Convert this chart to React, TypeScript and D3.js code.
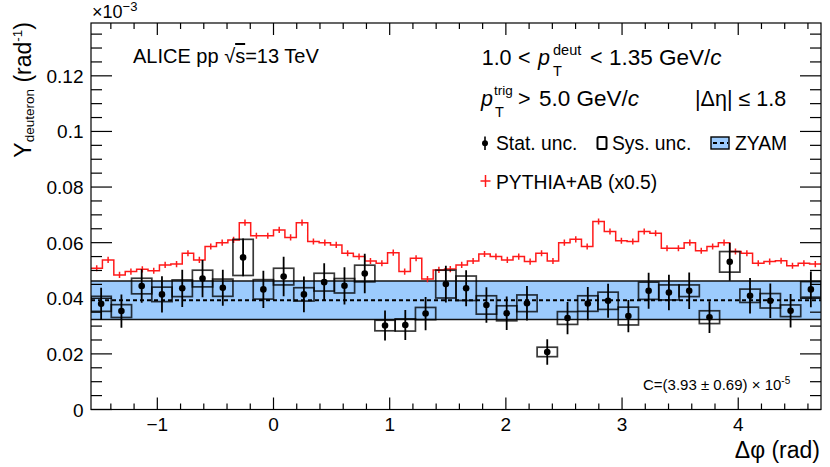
import { useEffect, useRef } from 'react';
import * as d3 from 'd3';

// deuteron yield per Δφ bin, 36 bins over [-π/2, 3π/2]
const yieldValues = [
  0.0380, 0.0354, 0.0444, 0.0414, 0.0436, 0.0471, 0.0438, 0.0547, 0.0432,
  0.0478, 0.0414, 0.0458, 0.0445, 0.0489, 0.0302, 0.0304, 0.0345, 0.0451,
  0.0436, 0.0376, 0.0346, 0.0382, 0.0207, 0.0329, 0.0381, 0.0391, 0.0336,
  0.0427, 0.0421, 0.0427, 0.0332, 0.0531, 0.0409, 0.0391, 0.0355, 0.0432,
];
const statErrors = [
  0.0058, 0.0060, 0.0060, 0.0065, 0.0067, 0.0067, 0.0065, 0.0068, 0.0067,
  0.0071, 0.0064, 0.0068, 0.0067, 0.0071, 0.0054, 0.0054, 0.0060, 0.0066,
  0.0065, 0.0064, 0.0060, 0.0062, 0.0046, 0.0058, 0.0060, 0.0061, 0.0058,
  0.0065, 0.0064, 0.0066, 0.0057, 0.0068, 0.0064, 0.0062, 0.0060, 0.0064,
];
const sysErrors = [
  0.0027, 0.0023, 0.0028, 0.0026, 0.0030, 0.0030, 0.0031, 0.0065, 0.0035,
  0.0030, 0.0024, 0.0032, 0.0026, 0.0030, 0.0019, 0.0022, 0.0022, 0.0050,
  0.0044, 0.0033, 0.0027, 0.0030, 0.0017, 0.0023, 0.0028, 0.0031, 0.0032,
  0.0031, 0.0027, 0.0021, 0.0023, 0.0037, 0.0024, 0.0026, 0.0021, 0.0028,
];

// PYTHIA+AB (x0.5), 64 bins over the same range
const pythiaValues = [
  0.0508, 0.0538, 0.0484, 0.0496, 0.0504, 0.0499, 0.0520, 0.0523,
  0.0562, 0.0538, 0.0586, 0.0600, 0.0610, 0.0672, 0.0625, 0.0625,
  0.0646, 0.0619, 0.0672, 0.0604, 0.0600, 0.0592, 0.0562, 0.0550,
  0.0534, 0.0526, 0.0564, 0.0496, 0.0544, 0.0469, 0.0502, 0.0505,
  0.0520, 0.0534, 0.0559, 0.0550, 0.0538, 0.0550, 0.0532, 0.0562,
  0.0534, 0.0600, 0.0612, 0.0586, 0.0676, 0.0640, 0.0607, 0.0604,
  0.0640, 0.0634, 0.0580, 0.0580, 0.0600, 0.0571, 0.0586, 0.0600,
  0.0568, 0.0562, 0.0526, 0.0532, 0.0535, 0.0517, 0.0526, 0.0523,
];
const pythiaError = 0.0011;

// ZYAM baseline C and its uncertainty
const zyamC = 0.0393;
const zyamErr = 0.0069;

const xTicks = [-1, 0, 1, 2, 3, 4];
const xTickLabels = ['\u22121', '0', '1', '2', '3', '4'];
const yTicks = [0, 0.02, 0.04, 0.06, 0.08, 0.1, 0.12];
const yTickLabels = ['0', '0.02', '0.04', '0.06', '0.08', '0.1', '0.12'];

const FONT = '"Liberation Sans", Arial, Helvetica, sans-serif';
const BAND = '#9ccbfd';
const RED = '#ff1a1a';

export default function App() {
  const gRef = useRef<SVGGElement>(null);

  useEffect(() => {
    if (!gRef.current) return;
    const root = d3.select(gRef.current);
    root.selectAll('*').remove();

    const left = 91, right = 821, top = 23, bottom = 409.5;
    const xMin = -Math.PI / 2, xMax = 3 * Math.PI / 2;

    const x = d3.scaleLinear().domain([xMin, xMax]).range([left, right]);
    const y = d3.scaleLinear().domain([0, 0.139]).range([bottom, top]);

    root.append('defs').append('clipPath').attr('id', 'plot')
      .append('rect')
      .attr('x', left).attr('y', top)
      .attr('width', right - left).attr('height', bottom - top);

    const plot = root.append('g').attr('clip-path', 'url(#plot)');

    // ZYAM band
    plot.append('rect')
      .attr('x', x(xMin)).attr('width', x(xMax) - x(xMin))
      .attr('y', y(zyamC + zyamErr))
      .attr('height', y(zyamC - zyamErr) - y(zyamC + zyamErr))
      .attr('fill', BAND);
    [zyamC + zyamErr, zyamC - zyamErr].forEach(v => {
      plot.append('line')
        .attr('x1', x(xMin)).attr('x2', x(xMax))
        .attr('y1', y(v)).attr('y2', y(v))
        .attr('stroke', '#111').attr('stroke-width', 1.5);
    });
    plot.append('line')
      .attr('x1', x(xMin)).attr('x2', x(xMax))
      .attr('y1', y(zyamC)).attr('y2', y(zyamC))
      .attr('stroke', '#000').attr('stroke-width', 2)
      .attr('stroke-dasharray', '4 3');

    // PYTHIA histogram
    const pw = (xMax - xMin) / pythiaValues.length;
    const steps: [number, number][] = [];
    pythiaValues.forEach((v, i) => {
      steps.push([xMin + i * pw, v], [xMin + (i + 1) * pw, v]);
    });
    const line = d3.line<[number, number]>()
      .x(d => x(d[0]))
      .y(d => y(d[1]));
    plot.append('path')
      .datum(steps)
      .attr('fill', 'none')
      .attr('stroke', RED)
      .attr('stroke-width', 1.5)
      .attr('d', line);
    plot.selectAll('line.pyerr')
      .data(pythiaValues)
      .join('line')
      .attr('class', 'pyerr')
      .attr('x1', (_, i) => x(xMin + (i + 0.5) * pw))
      .attr('x2', (_, i) => x(xMin + (i + 0.5) * pw))
      .attr('y1', d => y(d - pythiaError))
      .attr('y2', d => y(d + pythiaError))
      .attr('stroke', RED)
      .attr('stroke-width', 1.5);

    // data
    const bw = (xMax - xMin) / yieldValues.length;
    const cx = (i: number) => x(xMin + (i + 0.5) * bw);

    plot.selectAll('rect.sys')
      .data(yieldValues)
      .join('rect')
      .attr('class', 'sys')
      .attr('x', (_, i) => x(xMin + i * bw))
      .attr('width', x(xMin + bw) - x(xMin))
      .attr('y', (d, i) => y(d + sysErrors[i]))
      .attr('height', (d, i) => y(d - sysErrors[i]) - y(d + sysErrors[i]))
      .attr('fill', 'none')
      .attr('stroke', 'rgba(0,0,0,0.78)')
      .attr('stroke-width', 1.7);

    plot.selectAll('line.stat')
      .data(yieldValues)
      .join('line')
      .attr('class', 'stat')
      .attr('x1', (_, i) => cx(i)).attr('x2', (_, i) => cx(i))
      .attr('y1', (d, i) => y(d - statErrors[i]))
      .attr('y2', (d, i) => y(d + statErrors[i]))
      .attr('stroke', '#000')
      .attr('stroke-width', 1.8);

    plot.selectAll('circle.pt')
      .data(yieldValues)
      .join('circle')
      .attr('class', 'pt')
      .attr('cx', (_, i) => cx(i))
      .attr('cy', d => y(d))
      .attr('r', 3.3)
      .attr('fill', '#000');

    // frame and ticks
    const axes = root.append('g').attr('stroke', '#000').attr('stroke-width', 1.2);
    axes.append('rect')
      .attr('x', left).attr('y', top)
      .attr('width', right - left).attr('height', bottom - top)
      .attr('fill', 'none');

    const xMinor = d3.range(-7, 24).map(k => k / 5).filter(v => v > xMin && v < xMax);
    xMinor.forEach(v => {
      const len = xTicks.includes(v) ? 12 : 6;
      axes.append('line').attr('x1', x(v)).attr('x2', x(v))
        .attr('y1', bottom).attr('y2', bottom - len);
      axes.append('line').attr('x1', x(v)).attr('x2', x(v))
        .attr('y1', top).attr('y2', top + len);
    });
    const yMinor = d3.range(0, 28).map(k => k * 0.005);
    yMinor.forEach((v, k) => {
      const len = k % 4 === 0 ? 21 : 11;
      axes.append('line').attr('x1', left).attr('x2', left + len)
        .attr('y1', y(v)).attr('y2', y(v));
      axes.append('line').attr('x1', right).attr('x2', right - len)
        .attr('y1', y(v)).attr('y2', y(v));
    });

    const labels = root.append('g')
      .attr('font-family', FONT).attr('font-size', 19).attr('fill', '#000');
    labels.selectAll('text.xl')
      .data(xTicks)
      .join('text')
      .attr('class', 'xl')
      .attr('x', d => x(d)).attr('y', 431)
      .attr('text-anchor', 'middle')
      .text((_, i) => xTickLabels[i]);
    labels.selectAll('text.yl')
      .data(yTicks)
      .join('text')
      .attr('class', 'yl')
      .attr('x', 83.5).attr('y', d => y(d) + 7)
      .attr('text-anchor', 'end')
      .text((_, i) => yTickLabels[i]);
  }, []);

  const t = { fontFamily: FONT, fill: '#000' } as const;

  return (
    <svg
      width={830}
      height={467}
      style={{ position: 'absolute', left: 0, top: 0, background: '#fff' }}
    >
      <g ref={gRef} />

      {/* exponent */}
      <text x={92} y={18} fontSize={18} style={t}>
        ×10<tspan fontSize={13} dy={-7}>−3</tspan>
      </text>

      {/* axis titles */}
      <text transform="translate(31,22) rotate(-90)" textAnchor="end" fontSize={23} style={t}>
        Y<tspan fontSize={13.5} dy={3}>deuteron</tspan>
        <tspan dy={-3}> (rad</tspan>
        <tspan fontSize={13.5} dy={-9}>-1</tspan>
        <tspan dy={9}>)</tspan>
      </text>
      <text x={820} y={458} textAnchor="end" fontSize={23} style={t}>Δφ (rad)</text>

      {/* headline */}
      <text x={133} y={63} fontSize={20} style={t}>
        ALICE pp  √<tspan style={{ textDecoration: 'overline' }}>s</tspan>=13 TeV
      </text>

      {/* kinematic selection */}
      <g fontSize={21.5} style={t}>
        <text x={481.7} y={65}>1.0</text>
        <text x={518} y={65}>&lt;</text>
        <text x={538} y={65} fontStyle="italic">p</text>
        <text x={553} y={55} fontSize={14.5}>deut</text>
        <text x={553} y={76} fontSize={14.5}>T</text>
        <text x={590} y={65}>&lt;</text>
        <text x={609} y={65} fontSize={22.5}>1.35 GeV/<tspan fontStyle="italic">c</tspan></text>

        <text x={481} y={106} fontStyle="italic">p</text>
        <text x={494} y={95} fontSize={13.5}>trig</text>
        <text x={495} y={117} fontSize={14.5}>T</text>
        <text x={518} y={106}>&gt;</text>
        <text x={539} y={106} fontSize={22.5}>5.0 GeV/<tspan fontStyle="italic">c</tspan></text>
        <text x={695} y={106}>|Δη| ≤ 1.8</text>
      </g>

      {/* legend */}
      <g fontSize={19.3} style={t}>
        <line x1={485} x2={485} y1={136.5} y2={150} stroke="#000" strokeWidth={1.6} />
        <circle cx={485} cy={143.3} r={3} fill="#000" />
        <text x={496} y={150}>Stat. unc.</text>

        <rect x={597.5} y={137} width={9} height={12} rx={1.5} fill="none" stroke="#000" strokeWidth={2} />
        <text x={612} y={150}>Sys. unc.</text>

        <rect x={711} y={137} width={18} height={12} fill={BAND} stroke="#000" strokeWidth={1.4} />
        <line x1={713} x2={728} y1={143} y2={143} stroke="#000" strokeWidth={1.8} strokeDasharray="4 3" />
        <text x={735} y={150}>ZYAM</text>

        <line x1={480.5} x2={490.5} y1={181} y2={181} stroke={RED} strokeWidth={1.5} />
        <line x1={485.5} x2={485.5} y1={175} y2={187} stroke={RED} strokeWidth={1.5} />
        <text x={496} y={188.5}>PYTHIA+AB (x0.5)</text>
      </g>

      {/* ZYAM constant */}
      <text x={643} y={390} fontSize={15} style={t}>
        C=(3.93 ± 0.69) × 10<tspan fontSize={10} dy={-6}>-5</tspan>
      </text>
    </svg>
  );
}
